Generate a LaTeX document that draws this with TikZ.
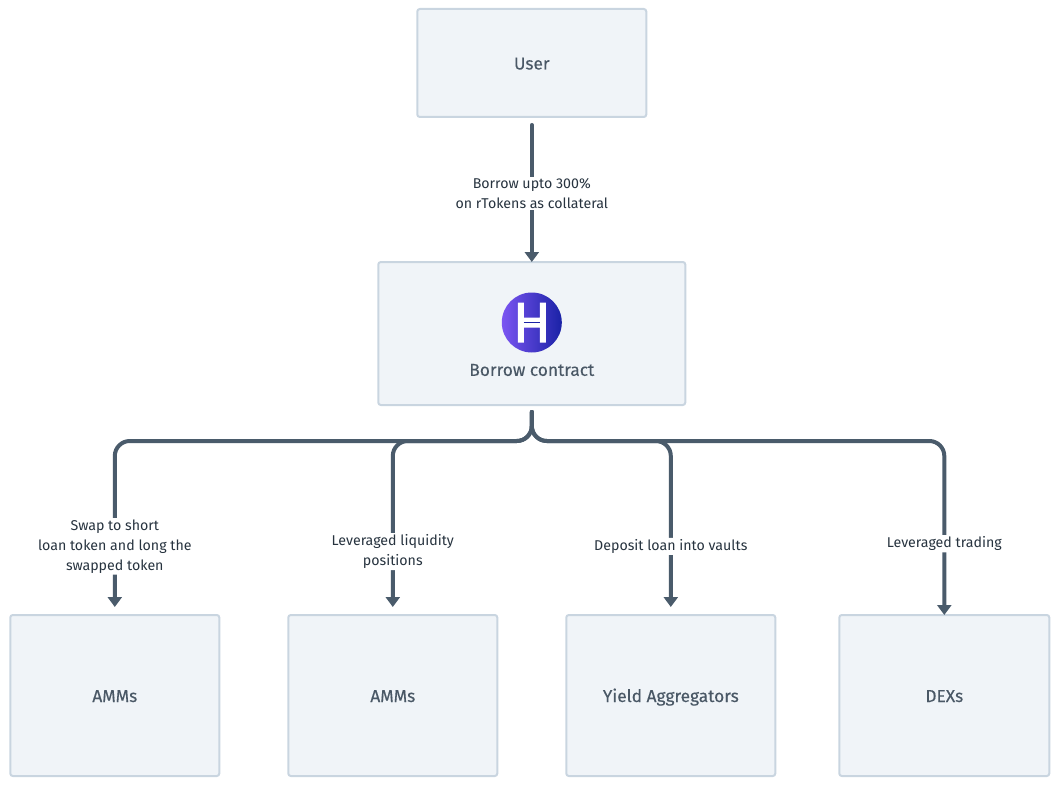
\documentclass[tikz,border=0pt]{standalone}
\usepackage{fontspec}
\setmainfont{Fira Sans}
\newfontfamily\blockfont[FakeBold=0.25]{Fira Sans}
\usetikzlibrary{arrows.meta,positioning}
\definecolor{c1}{HTML}{F0F4F8}
\definecolor{c2}{HTML}{C9D5E0}
\definecolor{c3}{HTML}{4A5B6B}
\definecolor{c4}{HTML}{27333F}
\definecolor{c5}{HTML}{4A5866}
\definecolor{c6}{HTML}{7B55F2}
\definecolor{c7}{HTML}{1A22A6}
\tikzset{
  block/.style={draw=c2,fill=c1,line width=2pt,rounded corners=2.5pt,outer sep=0pt,text=c5,text height=13pt,text depth=0pt,font=\blockfont\fontsize{17.3}{20}\selectfont},
  link/.style={c3,line width=4pt,line cap=round,-{Triangle[width=14pt,length=10pt]}},
  lbl/.style={fill=white,text=c4,align=center,inner sep=1.5pt,yshift=-1pt,font=\fontsize{14.2}{20}\selectfont},
}
\begin{document}
\begin{tikzpicture}[x=1pt,y=-1pt]
\useasboundingbox (0,0) rectangle (1059,786);
\node[block,minimum width=229pt,minimum height=108pt] (user) at (531.8,63) {User};
\node[block,minimum width=307pt,minimum height=143pt,below=145pt of user] (borrow) {};
\node[block,minimum width=209pt,minimum height=161pt] (amm1) at (114.8,695.5) {AMMs};
\node[block,minimum width=209pt,minimum height=161pt,right=69pt of amm1] (amm2) {AMMs};
\node[block,minimum width=209pt,minimum height=161pt,right=69pt of amm2] (yield) {Yield Aggregators};
\node[block,minimum width=210pt,minimum height=161pt,right=64pt of yield] (dex) {DEXs};
% logo and title of the contract box
\node[circle,minimum size=60pt,inner sep=0pt,left color=c6,right color=c7] (logo) at (531.8,322.5) {};
\node[text=c5,font=\blockfont\fontsize{17.3}{20}\selectfont] (title) at (531.8,370) {Borrow contract};
\fill[white,shift={(logo.center)}] (-14,-20) rectangle (-8,20) (8,-20) rectangle (14,20) (-8,-5) rectangle (8,5);
\draw[c7,line width=0.6pt,shift={(logo.center)}] (-8,0) -- (8,0);
% connectors
\coordinate (bus) at (531.8,441);
\draw[link,shorten <=8pt] (user.south) -- node[lbl,pos=0.52] (l0) {Borrow upto 300\%\\on rTokens as collateral} (borrow.north);
\draw[link,rounded corners=15pt,shorten <=7pt,shorten >=8pt] (borrow.south) -- (bus) -- (bus -| amm1.north) -- node[lbl,pos=0.6] (l1) {Swap to short\\loan token and long the\\swapped token} (amm1.north);
\draw[link,rounded corners=15pt,shorten <=7pt,shorten >=8pt] (borrow.south) -- (bus) -- (bus -| amm2.north) -- node[lbl,pos=0.63] (l2) {Leveraged liquidity\\positions} (amm2.north);
\draw[link,rounded corners=15pt,shorten <=7pt,shorten >=8pt] (borrow.south) -- (bus) -- (bus -| yield.north) -- node[lbl,pos=0.6] (l3) {Deposit loan into vaults} (yield.north);
\draw[link,rounded corners=15pt,shorten <=7pt] (borrow.south) -- (bus) -- (bus -| dex.north) -- node[lbl,pos=0.585] (l4) {Leveraged trading} (dex.north);
\end{tikzpicture}
\end{document}
